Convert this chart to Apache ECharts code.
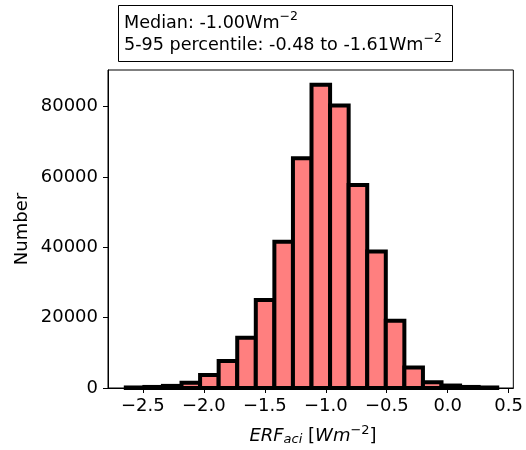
<!DOCTYPE html>
<html><head><meta charset="utf-8">
<script src="https://cdn.jsdelivr.net/npm/echarts@6/dist/echarts.min.js"></script>
<style>html,body{margin:0;padding:0;background:#fff}#c{width:526px;height:450px}</style>
</head><body><div id="c"></div>
<script>
// Histogram of ERF_aci samples
const binStart = -2.64;
const binWidth = 0.1523;
const counts = [150, 300, 600, 1500, 3700, 7700, 14300, 25000, 41600, 65300, 86200, 80300, 57700, 38800, 19100, 5800, 1600, 700, 300, 150];
const xTicks = [-2.5, -2.0, -1.5, -1.0, -0.5, 0.0, 0.5];
const yTicks = [0, 20000, 40000, 60000, 80000];
const medianText = "Median: -1.00Wm";
const pctText = "5-95 percentile: -0.48 to -1.61Wm";

const data = counts.map((c, i) => [binStart + i * binWidth, binStart + (i + 1) * binWidth, c]);
const FONT = 'DejaVu Sans';
const fmt = v => (v < 0 ? '\u2212' : '') + Math.abs(v).toFixed(1);

const chart = echarts.init(document.getElementById('c'), null, {renderer: 'canvas'});
chart.setOption({
  animation: false,
  backgroundColor: '#fff',
  grid: {left: 108, right: 8, top: 70, bottom: 62, show: true, borderColor: '#000', borderWidth: 1, backgroundColor: 'transparent'},
  xAxis: {
    type: 'value', min: -2.786, max: 0.538,
    splitLine: {show: false},
    axisLine: {show: true, onZero: false, lineStyle: {color: '#000', width: 1}},
    axisTick: {show: true, length: 5, lineStyle: {color: '#000'}, customValues: xTicks},
    axisLabel: {customValues: xTicks, formatter: fmt, fontFamily: FONT, fontSize: 18, color: '#000', margin: 9}
  },
  yAxis: {
    type: 'value', min: 0, max: 90400, interval: 20000,
    splitLine: {show: false},
    axisLine: {show: true, onZero: false, lineStyle: {color: '#000', width: 1}},
    axisTick: {show: true, length: 5, lineStyle: {color: '#000'}, customValues: yTicks},
    axisLabel: {customValues: yTicks, formatter: v => String(v), fontFamily: FONT, fontSize: 18, color: '#000', margin: 10}
  },
  series: [{
    type: 'custom',
    data: data,
    encode: {x: [0, 1], y: 2},
    renderItem: function (params, api) {
      const p0 = api.coord([api.value(0), api.value(2)]);
      const p1 = api.coord([api.value(1), 0]);
      return {type: 'rect', shape: {x: p0[0], y: p0[1], width: p1[0] - p0[0], height: p1[1] - p0[1]},
        style: {fill: '#ff7f7f', stroke: '#000', lineWidth: 4}};
    }
  }],
  graphic: [
    {type: 'rect', left: 118, top: 5, shape: {width: 334, height: 56}, style: {fill: '#fff', stroke: '#000', lineWidth: 1}},
    {type: 'text', left: 124, top: 10, style: {
      text: '{t|' + medianText + '}{s|\u22122}\n{t|' + pctText + '}{s|\u22122}',
      rich: {
        t: {fontFamily: FONT, fontSize: 17.6, fill: '#000', lineHeight: 22, verticalAlign: 'bottom'},
        s: {fontFamily: FONT, fontSize: 12.5, fill: '#000', lineHeight: 22, verticalAlign: 'top', padding: [0, 0, 6, 0]}
      }
    }},
    {type: 'text', x: 313, y: 424, style: {
      align: 'center',
      text: '{i|ERF}{sub|aci}{r| [}{i|Wm}{sup|\u22122}{r|]}',
      rich: {
        i: {fontFamily: FONT, fontStyle: 'italic', fontSize: 18, fill: '#000', lineHeight: 24},
        sub: {fontFamily: FONT, fontStyle: 'italic', fontSize: 13, fill: '#000', padding: [8, 0, 0, 0], lineHeight: 24},
        r: {fontFamily: FONT, fontSize: 18, fill: '#000', lineHeight: 24},
        sup: {fontFamily: FONT, fontSize: 13, fill: '#000', padding: [0, 0, 10, 0], lineHeight: 24}
      }
    }},
    {type: 'text', x: 22, y: 229, rotation: Math.PI / 2, style: {
      text: 'Number', fontFamily: FONT, fontSize: 18, fill: '#000', align: 'center', verticalAlign: 'middle'
    }}
  ]
});
</script></body></html>
